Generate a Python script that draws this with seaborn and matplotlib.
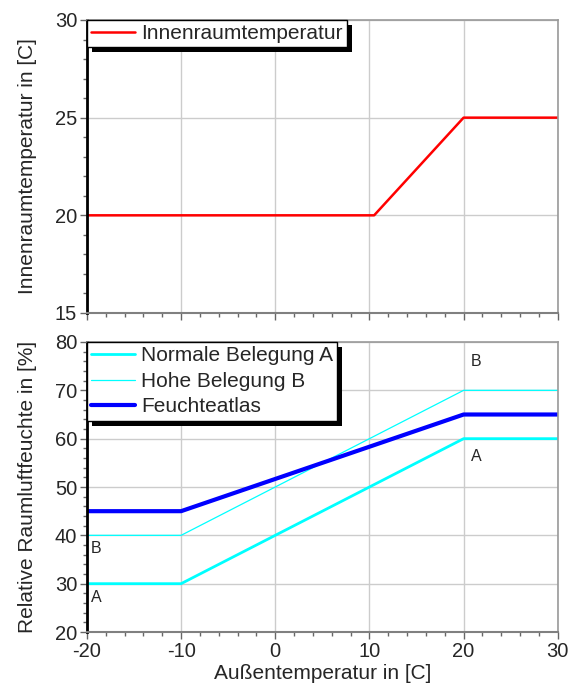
import matplotlib
matplotlib.use("Agg")
import matplotlib.pyplot as plt
import matplotlib.patheffects as pe
import seaborn as sns
from matplotlib.ticker import MultipleLocator

# data
x_innen = [-20, 10.5, 20, 30]
y_innen = [20, 20, 25, 25]

x_feuchte = [-20, -10, 20, 30]
y_normal_a = [30, 30, 60, 60]
y_hohe_b = [40, 40, 70, 70]
y_atlas = [45, 45, 65, 65]

sns.set_style("white")
plt.rcParams['font.family'] = ['Liberation Sans', 'DejaVu Sans']
plt.rcParams['font.size'] = 14
plt.rcParams['axes.unicode_minus'] = False

fig = plt.figure(figsize=(5.68, 6.84), dpi=100)
ax1 = fig.add_axes([0.153, 0.5424, 0.829, 0.4284])
ax2 = fig.add_axes([0.153, 0.076, 0.829, 0.424])


def style_axes(ax):
    ax.set_xlim(-20, 30)
    ax.xaxis.set_major_locator(MultipleLocator(10))
    ax.xaxis.set_minor_locator(MultipleLocator(2))
    ax.grid(True, which='major', color='#cccccc', linewidth=1)
    ax.set_axisbelow(True)
    for s in ['top', 'right']:
        ax.spines[s].set_color('#999999')
        ax.spines[s].set_linewidth(1.2)
    ax.spines['bottom'].set_color('#808080')
    ax.spines['bottom'].set_linewidth(1.5)
    ax.spines['left'].set_color('black')
    ax.spines['left'].set_linewidth(2)
    ax.tick_params(axis='both', which='major', direction='out', length=5,
                   width=1, color='#666666', labelsize=14.5, pad=2,
                   bottom=True, left=True)
    ax.tick_params(axis='both', which='minor', direction='out', length=3,
                   width=1, color='#666666', bottom=True, left=True)


def shadow_legend(ax, spacing):
    leg = ax.legend(loc='upper left', borderaxespad=0, fancybox=False,
                    frameon=True, fontsize=15, handlelength=2.1,
                    handletextpad=0.3, borderpad=0.2, labelspacing=spacing)
    frame = leg.get_frame()
    frame.set_edgecolor('black')
    frame.set_linewidth(1)
    frame.set_alpha(1)
    frame.set_path_effects([
        pe.SimplePatchShadow(offset=(3.5, -3.5), shadow_rgbFace='black',
                             alpha=1),
        pe.Normal()])
    return leg


# top panel
sns.lineplot(x=x_innen, y=y_innen, ax=ax1, color='red', linewidth=1.8,
             label='Innenraumtemperatur', sort=False)
style_axes(ax1)
ax1.set_ylim(15, 30)
ax1.yaxis.set_major_locator(MultipleLocator(5))
ax1.yaxis.set_minor_locator(MultipleLocator(1))
ax1.set_xticklabels([])
ax1.set_xlabel('')
ax1.set_ylabel('Innenraumtemperatur in [C]', fontsize=15, labelpad=13)
shadow_legend(ax1, 0.15)

# bottom panel
sns.lineplot(x=x_feuchte, y=y_normal_a, ax=ax2, color='#00ffff',
             linewidth=2, label='Normale Belegung A', sort=False)
sns.lineplot(x=x_feuchte, y=y_hohe_b, ax=ax2, color='#00ffff',
             linewidth=0.9, label='Hohe Belegung B', sort=False)
sns.lineplot(x=x_feuchte, y=y_atlas, ax=ax2, color='#0000ff',
             linewidth=3, label='Feuchteatlas', sort=False)
style_axes(ax2)
ax2.set_ylim(20, 80)
ax2.yaxis.set_major_locator(MultipleLocator(10))
ax2.yaxis.set_minor_locator(MultipleLocator(2))
ax2.set_xlabel('Außentemperatur in [C]', fontsize=15, labelpad=2)
ax2.set_ylabel('Relative Raumluftfeuchte in [%]', fontsize=15, labelpad=13)
shadow_legend(ax2, 0.32)

ax2.text(21.3, 76, 'B', fontsize=11.5, ha='center', va='center')
ax2.text(21.3, 56.3, 'A', fontsize=11.5, ha='center', va='center')
ax2.text(-19, 37.3, 'B', fontsize=11.5, ha='center', va='center')
ax2.text(-19, 27.2, 'A', fontsize=11.5, ha='center', va='center')

fig.savefig('out.png', dpi=100)
